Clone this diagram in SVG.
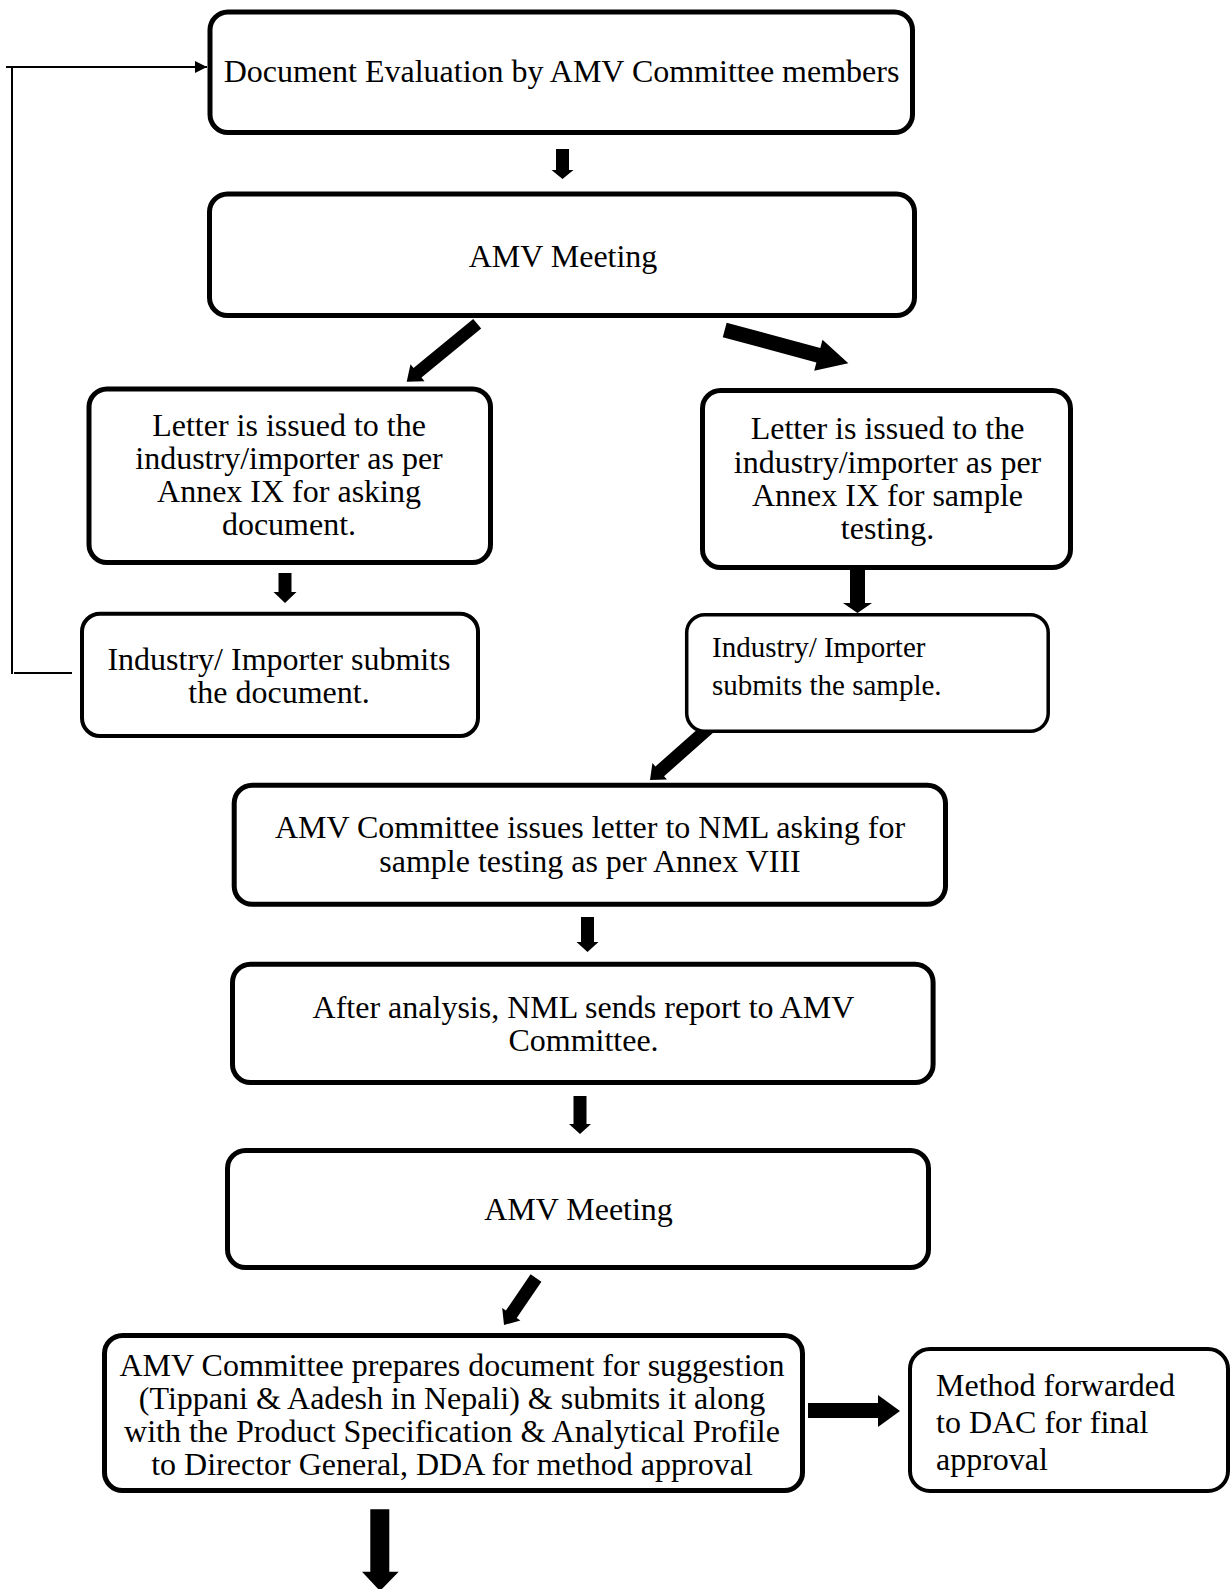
<svg xmlns="http://www.w3.org/2000/svg" width="1231" height="1589" viewBox="0 0 1231 1589">
<style>
  .box { fill: #ffffff; stroke: #000000; stroke-width: 5; }
  .thin { stroke-width: 4; }
  .thinner { stroke-width: 3.5; }
  .t { font-family: "Liberation Serif", "Times New Roman", serif; font-size: 32px; fill: #000000; }
  .c { text-anchor: middle; }
  .arrow { fill: #000000; stroke: none; }
  .loop { fill: none; stroke: #000000; stroke-width: 2; }
</style>
<defs>
  <marker id="tri" viewBox="0 0 10 10" refX="10" refY="5" markerWidth="15" markerHeight="12" markerUnits="userSpaceOnUse" orient="auto">
    <path d="M0,0 L10,5 L0,10 Z" fill="#000000"/>
  </marker>
</defs>
<rect x="0" y="0" width="1231" height="1589" fill="#ffffff"/>

<g id="connectors">
  <line class="loop" x1="6" y1="67" x2="207" y2="67" marker-end="url(#tri)"/>
  <line class="loop" x1="12" y1="67" x2="12" y2="674"/>
  <line class="loop" x1="14" y1="673" x2="72" y2="673"/>
  <polygon id="a1" class="arrow" points="556,149 556,170 551.5,170 562.5,179 573.5,170 569,170 569,149"/>
  <polygon id="a2" class="arrow" points="473.2,319 413.5,368 410.5,364.3 406.7,381.7 424.5,381.3 421.5,377.6 481.2,328.6"/>
  <polygon id="a3" class="arrow" points="722.75,337.25 816.4,362.5 814.2,370.7 848.3,363.3 822.5,339.8 820.3,348 726.65,322.75"/>
  <polygon id="a4" class="arrow" points="850,566 850,603 843,603 857.5,613 872,603 865,603 865,566"/>
  <polygon id="a5" class="arrow" points="278.5,573 278.5,592 273.5,592 285,603 296.5,592 291.5,592 291.5,573"/>
  <polygon id="a6" class="arrow" points="706.2,721.5 655.4,766.5 652.45,763.1 650,780 667,779.6 664.05,776.25 714.8,731.3"/>
  <polygon id="a7" class="arrow" points="581,917 581,942 576.5,942 587.5,952 598.5,942 594,942 594,917"/>
  <polygon id="a8" class="arrow" points="573.5,1096 573.5,1124 569,1124 580,1134 591,1124 586.5,1124 586.5,1096"/>
  <polygon id="a9" class="arrow" points="530.6,1274.3 505.9,1310.6 502.2,1308.1 504,1325 520.4,1320.4 516.7,1317.9 541.4,1281.7"/>
  <polygon id="a10" class="arrow" points="808,1403 878,1403 878,1395 900,1411 878,1427 878,1418 808,1418"/>
  <polygon id="a11" class="arrow" points="370.3,1509.3 370.3,1571.7 362,1571.7 380,1591 398.7,1571.7 389.3,1571.7 389.3,1509.3"/>
</g>

<g id="n1">
  <rect class="box" x="210" y="12" width="702.5" height="120.5" rx="18"/>
  <text class="t c" x="561.5" y="82">Document Evaluation by AMV Committee members</text>
</g>
<g id="n2">
  <rect class="box" x="209.5" y="194" width="705" height="121.5" rx="18"/>
  <text class="t c" x="563" y="267">AMV Meeting</text>
</g>
<g id="n3">
  <rect class="box" x="89" y="389" width="401.5" height="173.5" rx="18"/>
  <text class="t c" x="289" y="436">Letter is issued to the</text>
  <text class="t c" x="289" y="469">industry/importer as per</text>
  <text class="t c" x="289" y="502">Annex IX for asking</text>
  <text class="t c" x="289" y="535">document.</text>
</g>
<g id="n4">
  <rect class="box" x="702.5" y="390.5" width="368" height="177" rx="18"/>
  <text class="t c" x="887.5" y="439">Letter is issued to the</text>
  <text class="t c" x="887.5" y="473">industry/importer as per</text>
  <text class="t c" x="887.5" y="506">Annex IX for sample</text>
  <text class="t c" x="887.5" y="539">testing.</text>
</g>
<g id="n5">
  <rect class="box thin" x="82" y="613.7" width="396" height="122.3" rx="18"/>
  <text class="t c" x="279" y="670">Industry/ Importer submits</text>
  <text class="t c" x="279" y="703">the document.</text>
</g>
<g id="n6">
  <rect class="box thinner" x="686.7" y="614.7" width="361.5" height="116.5" rx="18"/>
  <text class="t" x="712" y="657" style="font-size:29px">Industry/ Importer</text>
  <text class="t" x="712" y="695" style="font-size:29px">submits the sample.</text>
</g>
<g id="n7">
  <rect class="box" x="234.2" y="785.2" width="711.3" height="119" rx="18"/>
  <text class="t c" x="590" y="838">AMV Committee issues letter to NML asking for</text>
  <text class="t c" x="590" y="872">sample testing as per Annex VIII</text>
</g>
<g id="n8">
  <rect class="box" x="232.5" y="964.2" width="700.6" height="118.3" rx="18"/>
  <text class="t c" x="583.5" y="1017.5">After analysis, NML sends report to AMV</text>
  <text class="t c" x="583.5" y="1050.5">Committee.</text>
</g>
<g id="n9">
  <rect class="box" x="227.5" y="1150.5" width="701" height="117" rx="18"/>
  <text class="t c" x="578.5" y="1220">AMV Meeting</text>
</g>
<g id="n10">
  <rect class="box" x="104.5" y="1335.5" width="698" height="155" rx="18"/>
  <text class="t c" x="452" y="1375.5">AMV Committee prepares document for suggestion</text>
  <text class="t c" x="452" y="1408.5">(Tippani &amp; Aadesh in Nepali) &amp; submits it along</text>
  <text class="t c" x="452" y="1441.5">with the Product Specification &amp; Analytical Profile</text>
  <text class="t c" x="452" y="1474.5">to Director General, DDA for method approval</text>
</g>
<g id="n11">
  <rect class="box thin" x="910" y="1349" width="318" height="142" rx="20"/>
  <text class="t" x="936" y="1396">Method forwarded</text>
  <text class="t" x="936" y="1433">to DAC for final</text>
  <text class="t" x="936" y="1470">approval</text>
</g>
</svg>
